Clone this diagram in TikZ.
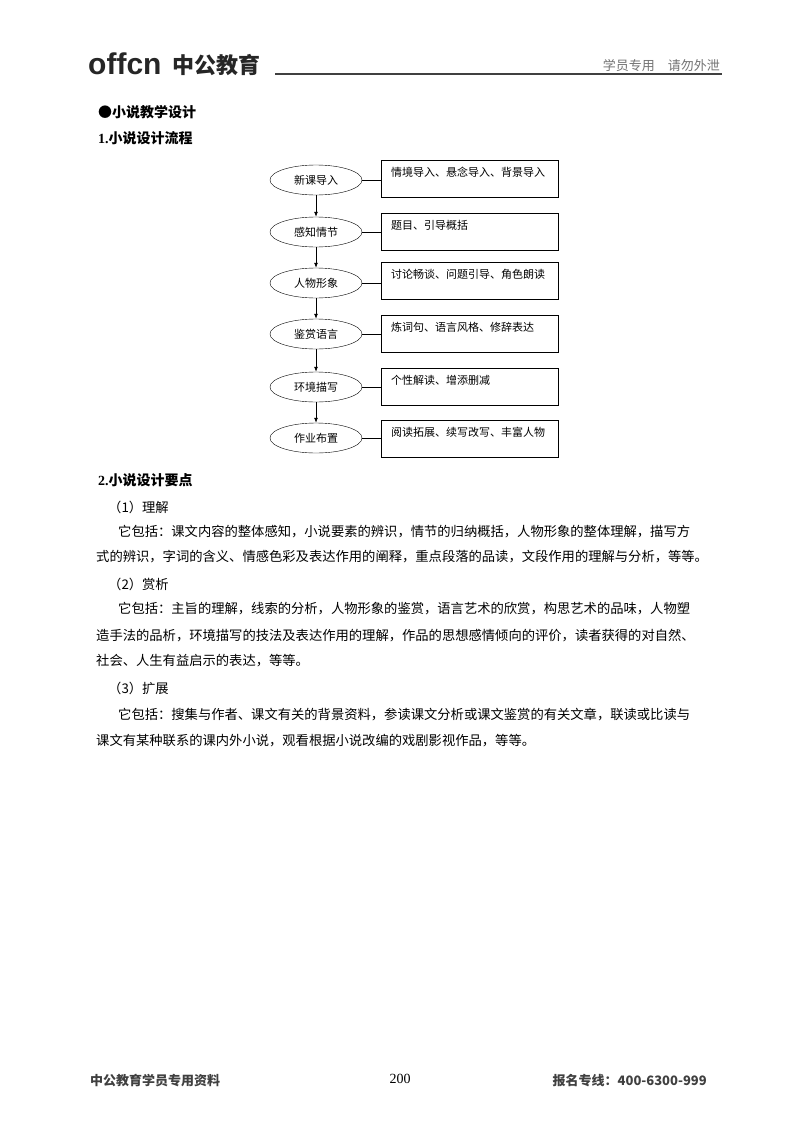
\documentclass[tikz,border=0pt]{standalone}
\usetikzlibrary{shapes.geometric,arrows.meta}
\usepackage{fontspec}
\setmainfont{Liberation Serif}
\newfontfamily\cjk{Noto Sans CJK SC}
\newfontfamily\lat{Liberation Sans}
\begin{document}
\begin{tikzpicture}[x=1pt,y=-1pt,
  ell/.style={draw,ellipse,minimum width=92pt,minimum height=30pt,inner sep=0pt,font=\cjk\fontsize{11}{11}\selectfont},
  bx/.style={draw,minimum width=177pt,minimum height=37pt,anchor=north west,inner sep=0pt},
  bt/.style={anchor=north west,font=\cjk\fontsize{11}{11}\selectfont,inner sep=0pt},
  body/.style={anchor=west,inner sep=0pt,font=\cjk\fontsize{13.3}{13.3}\selectfont},
  arr/.style={-{Latex[length=5pt,width=4pt]},thick}]
\useasboundingbox (0,0) rectangle (800,1132);
\fill[white] (0,0) rectangle (800,1132);
% header
\node[anchor=west,inner sep=0pt,font=\lat\bfseries\fontsize{30}{30}\selectfont,text=black!85] (logo) at (88,64) {offcn};
\node[anchor=west,inner sep=0pt,font=\cjk\bfseries\fontsize{22}{22}\selectfont,text=black!85] (logocn) at (172,65) {中公教育};
\coordinate (hl) at (275,74); \coordinate (hr) at (722,74);
\draw[line width=1.3pt,black!75] (hl) -- (hr);
\node[anchor=east,inner sep=0pt,font=\cjk\fontsize{13}{13}\selectfont,text=black!55] (hdr) at (720,66) {学员专用\hspace{1em}请勿外泄};
% titles
\node[body,font=\cjk\bfseries\fontsize{14}{14}\selectfont] (t1) at (98,112) {●小说教学设计};
\node[body,font=\cjk\bfseries\fontsize{14}{14}\selectfont] (t2) at (98,138) {{\rmfamily 1.}小说设计流程};
% flow
\foreach \n/\y/\t in {1/180/新课导入,2/232/感知情节,3/283/人物形象,4/334/鉴赏语言,5/387/环境描写,6/438/作业布置}
  \node[ell] (e\n) at (316,\y) {\t};
\foreach \n/\y/\t in {1/160/情境导入、悬念导入、背景导入,2/213/题目、引导概括,3/262/讨论畅谈、问题引导、角色朗读,4/315/炼词句、语言风格、修辞表达,5/368/个性解读、增添删减,6/420/阅读拓展、续写改写、丰富人物}{
  \node[bx] (b\n) at (381,\y) {};
  \node[bt] (bt\n) at (391,\y+7) {\t};
  \draw (e\n.east) -- (e\n.east -| b\n.west);
}
\foreach \a/\b in {1/2,2/3,3/4,4/5,5/6} \draw[arr] (e\a) -- (e\b);
% text
\node[body,font=\cjk\bfseries\fontsize{14}{14}\selectfont] (t3) at (98,480) {{\rmfamily 2.}小说设计要点};
\node[body] (s1) at (108,507) {（1）理解};
\node[body] (p11) at (118,532) {它包括：课文内容的整体感知，小说要素的辨识，情节的归纳概括，人物形象的整体理解，描写方};
\node[body] (p12) at (96,557) {式的辨识，字词的含义、情感色彩及表达作用的阐释，重点段落的品读，文段作用的理解与分析，等等。};
\node[body] (s2) at (108,584) {（2）赏析};
\node[body] (p21) at (118,609) {它包括：主旨的理解，线索的分析，人物形象的鉴赏，语言艺术的欣赏，构思艺术的品味，人物塑};
\node[body] (p22) at (96,636) {造手法的品析，环境描写的技法及表达作用的理解，作品的思想感情倾向的评价，读者获得的对自然、};
\node[body] (p23) at (96,661) {社会、人生有益启示的表达，等等。};
\node[body] (s3) at (108,688) {（3）扩展};
\node[body] (p31) at (118,715) {它包括：搜集与作者、课文有关的背景资料，参读课文分析或课文鉴赏的有关文章，联读或比读与};
\node[body] (p32) at (96,741) {课文有某种联系的课内外小说，观看根据小说改编的戏剧影视作品，等等。};
% footer
\node[body,font=\cjk\bfseries\fontsize{13}{13}\selectfont,text=black!75] (f1) at (90,1081) {中公教育学员专用资料};
\node[inner sep=0pt,font=\fontsize{14}{14}\selectfont] (f2) at (400,1079) {200};
\node[anchor=east,inner sep=0pt,font=\cjk\bfseries\fontsize{13}{13}\selectfont,text=black!75] (f3) at (707,1081) {报名专线：400-6300-999};
\end{tikzpicture}
\end{document}
